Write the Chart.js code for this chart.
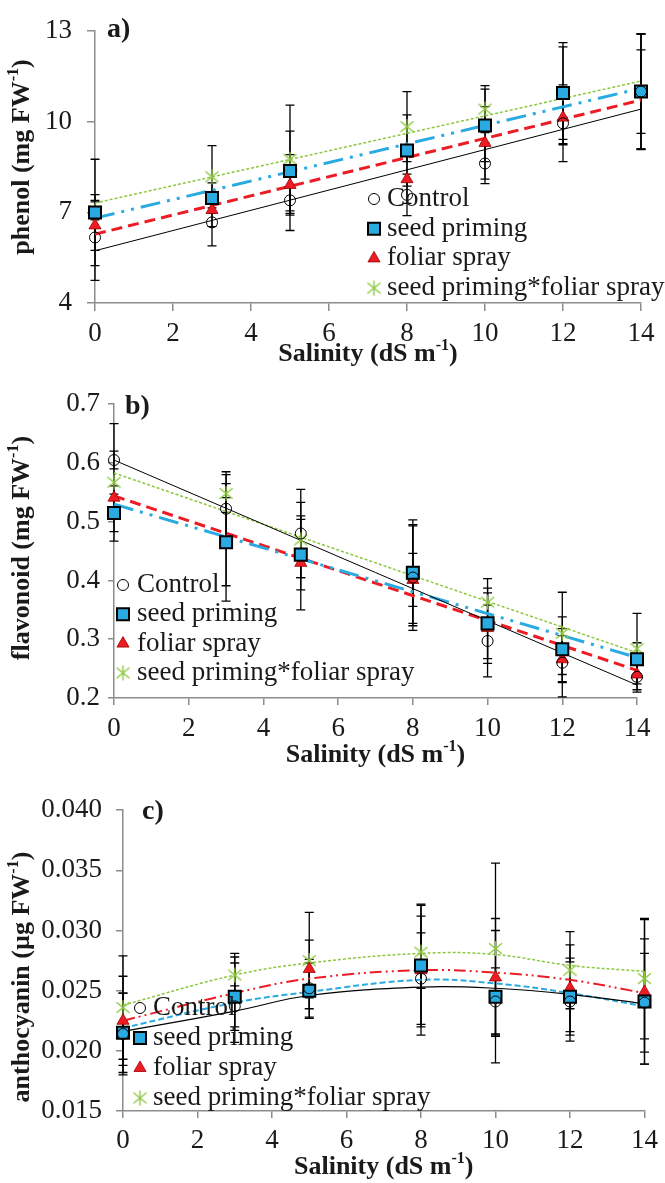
<!DOCTYPE html>
<html><head><meta charset="utf-8">
<script src="https://cdn.jsdelivr.net/npm/chart.js@4.4.1/dist/chart.umd.min.js"></script>
<style>
html,body{margin:0;padding:0;background:#fff;width:665px;height:1183px;overflow:hidden}
canvas{position:absolute;left:0}
</style></head><body>
<canvas id="cA" width="665" height="380" style="top:0px"></canvas>
<canvas id="cB" width="665" height="400" style="top:380px"></canvas>
<canvas id="cC" width="665" height="403" style="top:780px"></canvas>
<script>
// ---------------- DATA ----------------
const salinity = [0, 3, 5, 8, 10, 12, 14];
const trendEnds = [0, 14];
const seriesNames = ['Control', 'seed priming', 'foliar spray', 'seed priming*foliar spray'];
const xTickValues = [0, 2, 4, 6, 8, 10, 12, 14];

// a) phenol (mg FW-1)
const phenolControl  = [6.17, 6.67, 7.40, 7.58, 8.62, 9.95, 11.00];
const phenolSeed     = [7.00, 7.48, 8.37, 9.05, 9.88, 10.95, 11.00];
const phenolFoliar   = [6.57, 7.08, 7.91, 8.10, 9.30, 10.14, 11.00];
const phenolCombined = [7.05, 8.18, 8.76, 9.84, 10.42, 10.95, 11.00];
const phenolControlErr  = [1.42, 0.78, 1.00, 0.69, 0.67, 1.27, 1.90];
const phenolSeedErr     = [1.76, 0.50, 1.32, 1.18, 1.20, 1.67, 1.92];
const phenolFoliarErr   = [0.83, 0.55, 1.00, 0.80, 1.20, 0.90, 1.38];
const phenolCombinedErr = [0.30, 1.03, 1.79, 1.16, 0.78, 1.53, 1.90];
const phenolTrendControl  = [5.73, 10.42];
const phenolTrendSeed     = [6.81, 11.11];
const phenolTrendFoliar   = [6.28, 10.72];
const phenolTrendCombined = [7.31, 11.35];
const phenolTicks = [4, 7, 10, 13];

// b) flavonoid (mg FW-1)
const flavControl  = [0.605, 0.522, 0.480, 0.405, 0.297, 0.260, 0.236];
const flavSeed     = [0.515, 0.465, 0.444, 0.413, 0.327, 0.283, 0.266];
const flavFoliar   = [0.541, 0.466, 0.430, 0.401, 0.319, 0.266, 0.240];
const flavCombined = [0.567, 0.548, 0.469, 0.410, 0.363, 0.310, 0.284];
const flavControlErr  = [0.015, 0.063, 0.075, 0.090, 0.061, 0.058, 0.022];
const flavSeedErr     = [0.032, 0.100, 0.060, 0.090, 0.060, 0.055, 0.028];
const flavFoliarErr   = [0.020, 0.075, 0.080, 0.045, 0.060, 0.040, 0.030];
const flavCombinedErr = [0.100, 0.032, 0.064, 0.083, 0.040, 0.070, 0.060];
const flavTrendControl  = [0.605, 0.222];
const flavTrendSeed     = [0.530, 0.269];
const flavTrendFoliar   = [0.544, 0.247];
const flavTrendCombined = [0.583, 0.277];
const flavTicks = [0.2, 0.3, 0.4, 0.5, 0.6, 0.7];

// c) anthocyanin (µg FW-1)
const anthoControl  = [0.0214, 0.0237, 0.0252, 0.0260, 0.0241, 0.0241, 0.0240];
const anthoSeed     = [0.0215, 0.0245, 0.0250, 0.0271, 0.0245, 0.0245, 0.0241];
const anthoFoliar   = [0.0225, 0.0244, 0.0268, 0.0267, 0.0261, 0.0252, 0.0249];
const anthoCombined = [0.0236, 0.0263, 0.0275, 0.0282, 0.0285, 0.0267, 0.0260];
const anthoControlErr  = [0.0034, 0.0017, 0.0024, 0.0038, 0.0028, 0.0033, 0.0041];
const anthoSeedErr     = [0.0033, 0.0028, 0.0023, 0.0051, 0.0055, 0.0032, 0.0052];
const anthoFoliarErr   = [0.0037, 0.0037, 0.0024, 0.0054, 0.0049, 0.0036, 0.0060];
const anthoCombinedErr = [0.0043, 0.0015, 0.0040, 0.0030, 0.0071, 0.0032, 0.0050];
const anthoTrendControl  = [0.0216, 0.0233, 0.0246, 0.0253, 0.0252, 0.0247, 0.0239];
const anthoTrendSeed     = [0.0219, 0.0240, 0.0249, 0.0259, 0.0256, 0.0248, 0.0237];
const anthoTrendFoliar   = [0.0225, 0.0248, 0.0260, 0.0267, 0.0265, 0.0259, 0.0248];
const anthoTrendCombined = [0.0238, 0.0263, 0.0273, 0.0281, 0.0280, 0.0271, 0.0266];
const anthoTicks = [0.015, 0.020, 0.025, 0.030, 0.035, 0.040];

// ---------------- STYLE ----------------
const SERIF = "'Liberation Serif','Times New Roman',serif";
const BLUE = '#29ABE2', RED = '#ED1C24', GREEN = '#8DC63F', AXIS = '#8c8c8c', TEXT = '#1a1a1a';

function makeStar(color) {
  const s = 17, c = document.createElement('canvas');
  c.width = s; c.height = s;
  const g = c.getContext('2d');
  g.strokeStyle = color; g.lineWidth = 1.4;
  const m = s / 2, r = 6.5;
  g.beginPath();
  g.moveTo(m - r, m - r * 0.8); g.lineTo(m + r, m + r * 0.8);
  g.moveTo(m + r, m - r * 0.8); g.lineTo(m - r, m + r * 0.8);
  g.moveTo(m, m - r * 1.15); g.lineTo(m, m + r * 1.15);
  g.stroke();
  return c;
}
const starImg = makeStar(GREEN);

const markerStyles = [
  {pointStyle: 'circle', radius: 5.5, bg: 'rgba(255,255,255,0)', border: '#000', bw: 1},
  {pointStyle: 'rect', radius: 8.5, bg: BLUE, border: '#000', bw: 2},
  {pointStyle: 'triangle', radius: 7, bg: RED, border: '#9a0000', bw: 0.8},
  {pointStyle: starImg, radius: 8, bg: GREEN, border: GREEN, bw: 0}
];
const linesAB = [
  {color: '#000', width: 1, dash: []},
  {color: BLUE, width: 3, dash: [20, 7, 3, 7, 3, 7]},
  {color: RED, width: 3, dash: [11, 6]},
  {color: GREEN, width: 1.5, dash: [3, 2]}
];
const linesC = [
  {color: '#000', width: 1.2, dash: []},
  {color: BLUE, width: 2, dash: [6, 3]},
  {color: RED, width: 2, dash: [12, 4, 2, 4, 2, 4]},
  {color: GREEN, width: 1.5, dash: [3, 2]}
];

// ---------------- PLUGINS ----------------
const errorBars = {
  id: 'errorBars',
  beforeDatasetsDraw(chart, args, opts) {
    const ctx = chart.ctx, xs = chart.scales.x, ys = chart.scales.y;
    ctx.save();
    ctx.strokeStyle = '#000'; ctx.lineWidth = 1.3; ctx.setLineDash([]);
    opts.series.forEach((vals, i) => {
      const err = opts.errors[i];
      opts.xValues.forEach((xv, j) => {
        const px = xs.getPixelForValue(xv);
        const t = ys.getPixelForValue(vals[j] + err[j]);
        const b = ys.getPixelForValue(vals[j] - err[j]);
        ctx.beginPath();
        ctx.moveTo(px, t); ctx.lineTo(px, b);
        ctx.moveTo(px - 4.5, t); ctx.lineTo(px + 4.5, t);
        ctx.moveTo(px - 4.5, b); ctx.lineTo(px + 4.5, b);
        ctx.stroke();
      });
    });
    ctx.restore();
  }
};

function drawRich(ctx, parts, cx, cy, size, weight) {
  let total = 0;
  const widths = parts.map(p => {
    ctx.font = `${weight} ${p.sup ? size * 0.62 : size}px ${SERIF}`;
    const w = ctx.measureText(p.t).width; total += w; return w;
  });
  let x = cx - total / 2;
  ctx.textAlign = 'left'; ctx.textBaseline = 'middle';
  parts.forEach((p, i) => {
    ctx.font = `${weight} ${p.sup ? size * 0.62 : size}px ${SERIF}`;
    ctx.fillText(p.t, x, cy + (p.sup ? -size * 0.3 : 0));
    x += widths[i];
  });
}

const deco = {
  id: 'deco',
  afterDraw(chart, args, o) {
    const ctx = chart.ctx, area = chart.chartArea;
    ctx.save();
    ctx.fillStyle = TEXT;
    ctx.font = `bold 28px ${SERIF}`; ctx.textAlign = 'left'; ctx.textBaseline = 'middle';
    ctx.fillText(o.letter.text, o.letter.x, o.letter.y);
    drawRich(ctx, o.xTitle, (area.left + area.right) / 2, o.xTitleY, 26, 'bold');
    ctx.save();
    ctx.translate(o.yTitleX, o.yTitleY); ctx.rotate(-Math.PI / 2);
    drawRich(ctx, o.yTitle, 0, 0, 26, 'bold');
    ctx.restore();
    seriesNames.forEach((name, i) => {
      const y = o.legend.y0 + i * o.legend.dy;
      const st = markerStyles[i];
      ctx.save();
      ctx.fillStyle = st.bg; ctx.strokeStyle = st.border; ctx.lineWidth = st.bw;
      Chart.helpers.drawPoint(ctx, {pointStyle: st.pointStyle, radius: st.radius, rotation: 0, borderWidth: st.bw}, o.legend.mx, y);
      ctx.restore();
      ctx.fillStyle = TEXT;
      ctx.font = `27px ${SERIF}`; ctx.textAlign = 'left'; ctx.textBaseline = 'middle';
      ctx.fillText(name, o.legend.tx, y);
    });
    ctx.restore();
  }
};

// ---------------- BUILD ----------------
function makePanel(id, p) {
  const datasets = [];
  p.values.forEach((vals, i) => {
    const st = markerStyles[i];
    datasets.push({
      label: seriesNames[i],
      data: salinity.map((x, j) => ({x: x, y: vals[j]})),
      showLine: false, clip: false, order: 1,
      pointStyle: st.pointStyle, pointRadius: st.radius,
      pointBackgroundColor: st.bg, pointBorderColor: st.border, pointBorderWidth: st.bw,
      backgroundColor: st.bg, borderColor: st.border
    });
  });
  p.trends.forEach((vals, i) => {
    const ln = p.lines[i];
    datasets.push({
      label: seriesNames[i] + ' trend',
      data: p.trendX.map((x, j) => ({x: x, y: vals[j]})),
      showLine: true, pointRadius: 0, clip: false, order: 2,
      borderColor: ln.color, borderWidth: ln.width, borderDash: ln.dash,
      tension: p.trendX.length > 2 ? 0.4 : 0, fill: false
    });
  });
  const tickFont = {family: SERIF, size: 27};
  return new Chart(document.getElementById(id), {
    type: 'scatter',
    data: {datasets},
    options: {
      responsive: false, animation: false, devicePixelRatio: 1,
      layout: {padding: {left: 0, right: 665 - p.area.right, top: p.area.top, bottom: 0}},
      plugins: {
        legend: {display: false}, tooltip: {enabled: false},
        errorBars: {series: p.values, errors: p.errors, xValues: salinity},
        deco: p.deco
      },
      scales: {
        x: {
          type: 'linear', min: 0, max: 14,
          afterBuildTicks: s => { s.ticks = xTickValues.map(v => ({value: v})); },
          ticks: {font: tickFont, color: TEXT, padding: p.xPad, maxRotation: 0, autoSkip: false},
          grid: {drawOnChartArea: false, tickLength: p.xTick, color: AXIS, lineWidth: 1.5},
          border: {color: AXIS, width: 1.5},
          afterFit: s => { s.height = p.canvasH - p.area.bottom; }
        },
        y: {
          type: 'linear', min: p.yTicks[0], max: p.yTicks[p.yTicks.length - 1],
          afterBuildTicks: s => { s.ticks = p.yTicks.map(v => ({value: v})); },
          ticks: {font: tickFont, color: TEXT, padding: p.yPad, callback: v => v.toFixed(p.dec)},
          grid: {drawOnChartArea: false, tickLength: p.yTick, color: AXIS, lineWidth: 1.5},
          border: {color: AXIS, width: 1.5},
          afterFit: s => { s.width = p.area.left; }
        }
      }
    },
    plugins: [errorBars, deco]
  });
}

const salinityTitle = [{t: 'Salinity (dS m'}, {t: '-1', sup: true}, {t: ')'}];

makePanel('cA', {
  canvasH: 380, area: {left: 95, right: 641, top: 18, bottom: 303},
  values: [phenolControl, phenolSeed, phenolFoliar, phenolCombined],
  errors: [phenolControlErr, phenolSeedErr, phenolFoliarErr, phenolCombinedErr],
  trendX: trendEnds,
  trends: [phenolTrendControl, phenolTrendSeed, phenolTrendFoliar, phenolTrendCombined],
  lines: linesAB, yTicks: phenolTicks, dec: 0,
  xPad: 7, xTick: 8, yPad: 15, yTick: 8,
  deco: {
    letter: {text: 'a)', x: 107, y: 30},
    xTitle: salinityTitle, xTitleY: 354,
    yTitle: [{t: 'phenol (mg FW'}, {t: '-1', sup: true}, {t: ')'}], yTitleX: 22, yTitleY: 157,
    legend: {mx: 374, tx: 387, y0: 199, dy: 29.7}
  }
});

makePanel('cB', {
  canvasH: 400, area: {left: 114, right: 637, top: 18, bottom: 318},
  values: [flavControl, flavSeed, flavFoliar, flavCombined],
  errors: [flavControlErr, flavSeedErr, flavFoliarErr, flavCombinedErr],
  trendX: trendEnds,
  trends: [flavTrendControl, flavTrendSeed, flavTrendFoliar, flavTrendCombined],
  lines: linesAB, yTicks: flavTicks, dec: 1,
  xPad: 8, xTick: 7, yPad: 8, yTick: 6,
  deco: {
    letter: {text: 'b)', x: 125, y: 27},
    xTitle: salinityTitle, xTitleY: 375,
    yTitle: [{t: 'flavonoid (mg FW'}, {t: '-1', sup: true}, {t: ')'}], yTitleX: 22, yTitleY: 168,
    legend: {mx: 123, tx: 137, y0: 205, dy: 29.3}
  }
});

makePanel('cC', {
  canvasH: 403, area: {left: 123, right: 648, top: 18, bottom: 331},
  values: [anthoControl, anthoSeed, anthoFoliar, anthoCombined],
  errors: [anthoControlErr, anthoSeedErr, anthoFoliarErr, anthoCombinedErr],
  trendX: salinity,
  trends: [anthoTrendControl, anthoTrendSeed, anthoTrendFoliar, anthoTrendCombined],
  lines: linesC, yTicks: anthoTicks, dec: 3,
  xPad: 7, xTick: 7, yPad: 14, yTick: 7,
  deco: {
    letter: {text: 'c)', x: 142, y: 32},
    xTitle: salinityTitle, xTitleY: 387,
    yTitle: [{t: 'anthocyanin (\u00b5g FW'}, {t: '-1', sup: true}, {t: ')'}], yTitleX: 22, yTitleY: 197,
    legend: {mx: 140, tx: 153, y0: 228, dy: 30}
  }
});
</script>
</body></html>
